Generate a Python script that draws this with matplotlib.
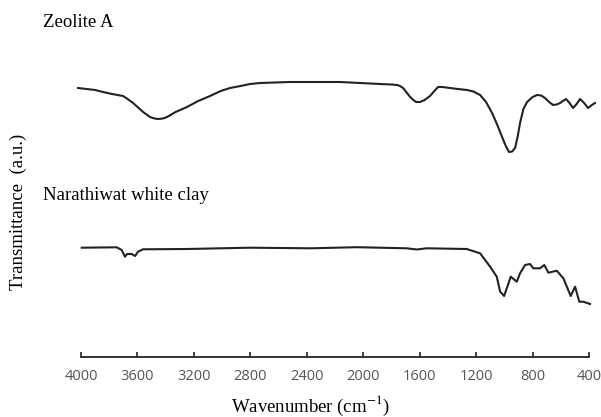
import matplotlib
matplotlib.use("Agg")
import matplotlib.pyplot as plt

# FTIR spectra (transmittance in arbitrary units)
zeolite_wn = [4021, 3900, 3844, 3780, 3702, 3670, 3631, 3560, 3511, 3480,
              3454, 3420, 3390, 3330, 3249, 3170, 3086, 3010, 2944, 2870,
              2802, 2731, 2519, 2164, 1881, 1800, 1760, 1740, 1718, 1690,
              1668, 1645, 1626, 1598, 1565, 1527, 1490, 1470, 1440, 1385,
              1330, 1264, 1220, 1172, 1130, 1087, 1050, 1016, 990, 967,
              945, 924, 905, 889, 865, 839, 800, 768, 740, 712,
              683, 655, 630, 605, 585, 563, 538, 513, 488, 464,
              435, 407, 380, 357]
zeolite_t = [312, 310, 308, 306, 304, 301, 297, 288, 283, 281.5,
             281, 281.5, 283, 288, 293, 299, 304, 309, 312, 314,
             316, 317, 318, 318, 316, 315.5, 315, 314, 312, 307,
             303, 300, 298, 298, 300, 304, 310, 313, 313, 312,
             311, 310, 308.5, 305, 298, 287, 275, 263, 254, 248,
             248.5, 252, 264, 277, 291, 298, 303, 305, 304.5, 302,
             298, 295, 295.5, 297, 299, 301, 297, 292, 296, 301,
             297, 292, 295, 297]

clay_wn = [3995, 3747, 3712, 3688, 3674, 3641, 3617, 3596, 3561, 3251,
           2802, 2372, 2046, 1692, 1621, 1550, 1267, 1172, 1101, 1054,
           1030, 1002, 979, 955, 912, 889, 853, 818, 795, 747,
           717, 688, 629, 582, 530, 499, 469, 441, 393]
clay_t = [152.3, 152.7, 150, 143.3, 146, 146, 144, 148.3, 150.7, 151,
          152.3, 151.7, 152.8, 151.7, 150.5, 151.7, 151, 146.7, 133.3, 123.3,
          108.3, 104, 113.3, 123.3, 118.3, 126.7, 135, 136, 131.7, 131.7,
          135, 127.3, 129.3, 121.7, 104, 113.3, 98.3, 98.3, 96]

xticks = [4000, 3600, 3200, 2800, 2400, 2000, 1600, 1200, 800, 400]

W, H = 601, 417
fig = plt.figure(figsize=(W / 100, H / 100), dpi=100)
ax = fig.add_axes([76.8 / W, (H - 357) / H, (596.1 - 76.8) / W, 297 / H])

ax.plot(zeolite_wn, zeolite_t, color="#222222", lw=1.5, solid_joinstyle="round")
ax.plot(clay_wn, clay_t, color="#222222", lw=1.5, solid_joinstyle="round")

ax.set_xlim(4030, 350)
ax.set_ylim(43, 340)
for s in ["top", "right", "left"]:
    ax.spines[s].set_visible(False)
ax.spines["bottom"].set_bounds(4000, 400)
ax.spines["bottom"].set_linewidth(1.3)
ax.spines["bottom"].set_color("#222222")
ax.set_yticks([])
ax.set_xticks(xticks)
ax.set_xticklabels([str(v) for v in xticks], family="Open Sans",
                   fontsize=10.5, color="#555555")
ax.tick_params(axis="x", direction="in", length=3.5, width=1.2,
               color="#222222", pad=9)

serif = "Liberation Serif"
plt.rcParams["mathtext.fontset"] = "stix"
fig.text(43 / W, 1 - 27 / H, "Zeolite A", family=serif, fontsize=13.5,
         va="baseline", ha="left")
fig.text(43 / W, 1 - 200 / H, "Narathiwat white clay", family=serif,
         fontsize=13.5, va="baseline", ha="left")
fig.text(18 / W, 1 - 212 / H, "Transmittance  (a.u.)", family=serif,
         fontsize=13.5, rotation=90, ha="center", va="center")
fig.text(310 / W, 1 - 406 / H, r"Wavenumber (cm$^{-1}$)", family=serif,
         fontsize=13.5, ha="center", va="center")

fig.savefig("out.png", dpi=100)
